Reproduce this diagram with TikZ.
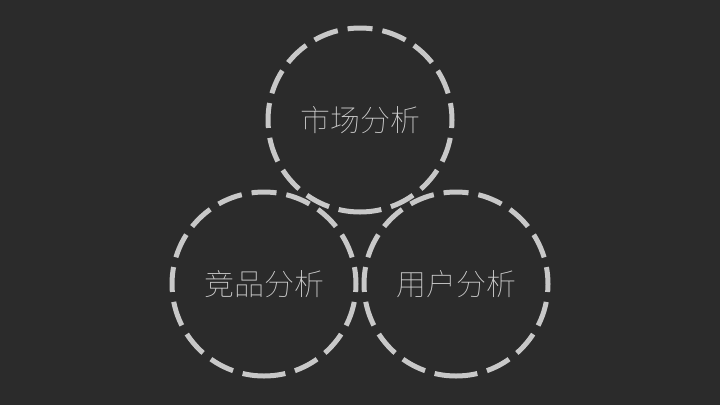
\documentclass[tikz,border=0pt]{standalone}
\usepackage{fontspec}
\newfontfamily\cjk{Noto Sans CJK SC}[UprightFont={* Thin}]
\definecolor{bg}{HTML}{2B2B2B}
\definecolor{ring}{HTML}{C8C8C8}
\definecolor{txt}{HTML}{D2D2D2}
\tikzset{
  ringline/.style={draw=ring, line width=5pt, dash pattern=on 25pt off 10pt, dash phase=3.5pt},
  lbl/.style={text=txt, font=\cjk\fontsize{30}{30}\selectfont, inner sep=0pt}
}
\begin{document}
\begin{tikzpicture}[x=1pt,y=-1pt]
\fill[bg] (0,0) rectangle (720,405);
\useasboundingbox (0,0) rectangle (720,405);
\coordinate (ct) at (360,120);
\coordinate (cl) at (264,284);
\coordinate (cr) at (456,284);
\foreach \c in {ct,cl,cr}{
  \draw[ringline] (\c) ++(0,92) arc[start angle=90, end angle=-270, radius=92];
}
\node[lbl] (mkt) at (ct) {市场分析};
\node[lbl] (cmp) at (cl) {竞品分析};
\node[lbl] (usr) at (cr) {用户分析};
\end{tikzpicture}
\end{document}
